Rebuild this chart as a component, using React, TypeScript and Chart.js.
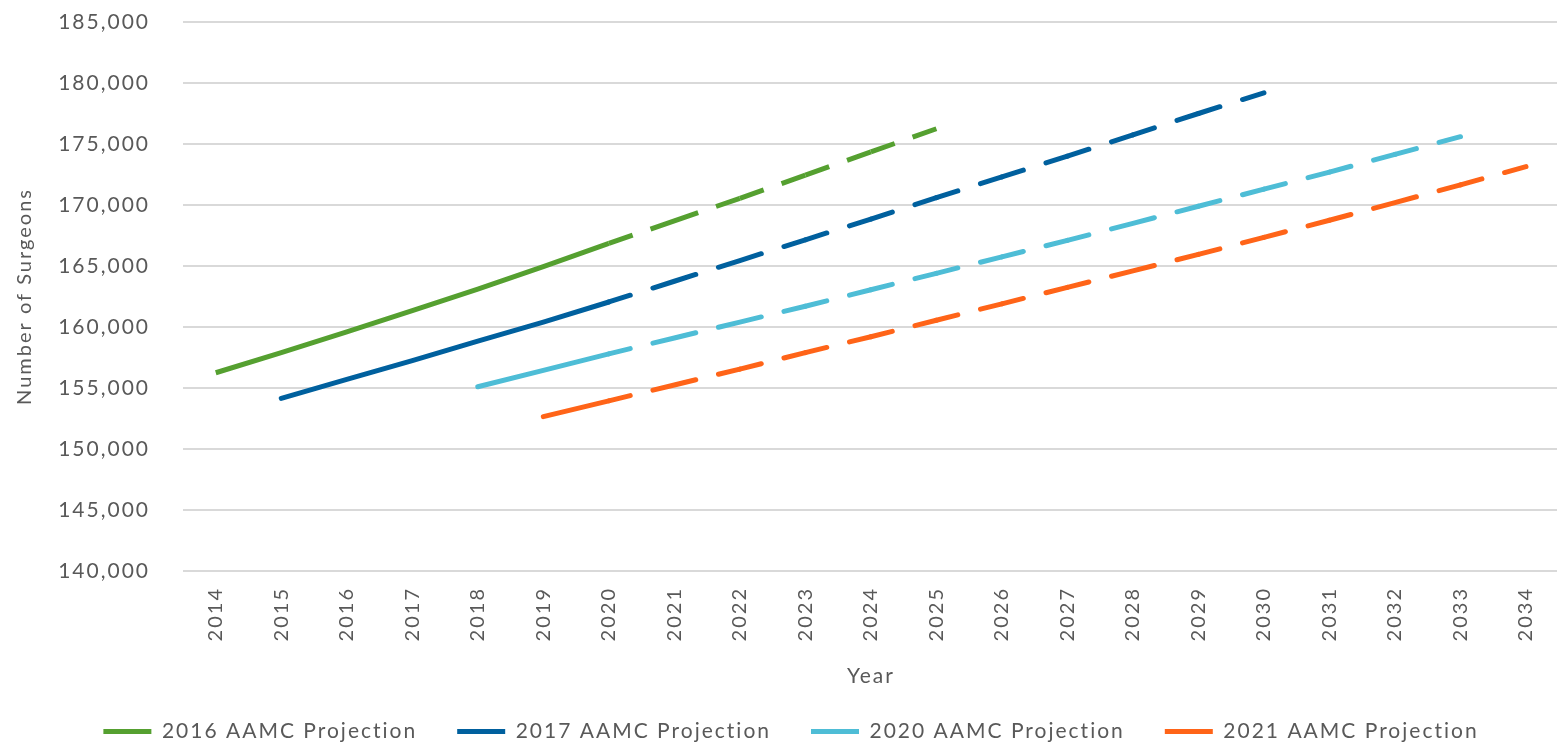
import React, { useEffect, useRef } from 'react';
import { Chart, registerables } from 'chart.js';

Chart.register(...registerables);

const years = ['2014', '2015', '2016', '2017', '2018', '2019', '2020', '2021', '2022', '2023', '2024', '2025', '2026', '2027', '2028', '2029', '2030', '2031', '2032', '2033', '2034'];

const proj2016 = [156250, 157900, 159600, 161350, 163100, 164950, 166850, 168700, 170550, 172450, 174350, 176250, null, null, null, null, null, null, null, null, null];
const proj2017 = [null, 154150, 155700, 157250, 158850, 160400, 162050, 163750, 165450, 167150, 168850, 170600, 172300, 174000, 175750, 177500, 179200, null, null, null, null];
const proj2020 = [null, null, null, null, 155100, 156450, 157800, 159100, 160400, 161700, 163050, 164400, 165750, 167100, 168500, 169900, 171300, 172700, 174150, 175600, null];
const proj2021 = [null, null, null, null, null, 152650, 153950, 155250, 156550, 157900, 159200, 160550, 161900, 163250, 164600, 165950, 167350, 168750, 170200, 171650, 173150];

const seriesLabels = ['2016 AAMC Projection', '2017 AAMC Projection', '2020 AAMC Projection', '2021 AAMC Projection'];
const seriesColors = ['#55A030', '#00609E', '#4EBDD6', '#FF6418'];

const projectionStart = 6; // index of 2020
const LINE_W = 5;
const DASH_FRAC = 48 / 66;
const HALF_FRAC = 24 / 66;
const TEXT = '#595959';
const FONT = 'Lato, "Open Sans", sans-serif';
const LS = '2px';

const makeSegment = (round: boolean) => ({
  borderDash: (c: any) => {
    if (c.p0DataIndex < projectionStart) return undefined;
    const len = Math.hypot(c.p1.x - c.p0.x, c.p1.y - c.p0.y);
    const d = len * DASH_FRAC - (round ? LINE_W : 0);
    return [d, len - d];
  },
  borderDashOffset: (c: any) => {
    if (c.p0DataIndex < projectionStart) return undefined;
    const len = Math.hypot(c.p1.x - c.p0.x, c.p1.y - c.p0.y);
    return len * HALF_FRAC - (round ? LINE_W / 2 : 0);
  },
});

const spacingPlugin = {
  id: 'letterSpacing',
  beforeUpdate(chart: any) {
    chart.ctx.letterSpacing = LS;
  },
  beforeDraw(chart: any) {
    chart.ctx.letterSpacing = LS;
  },
};

export default function App() {
  const ref = useRef<HTMLCanvasElement | null>(null);

  useEffect(() => {
    if (!ref.current) return;
    const allData = [proj2016, proj2017, proj2020, proj2021];
    const chart = new Chart(ref.current, {
      type: 'line',
      data: {
        labels: years,
        datasets: allData.map((d, i) => ({
          label: seriesLabels[i],
          data: d,
          borderColor: seriesColors[i],
          backgroundColor: seriesColors[i],
          borderWidth: LINE_W,
          borderCapStyle: i === 0 ? 'butt' : 'round',
          pointRadius: 0,
          pointHoverRadius: 0,
          tension: 0,
          fill: false,
          segment: makeSegment(i !== 0),
        })),
      },
      options: {
        responsive: false,
        animation: false,
        layout: { padding: { left: 16, top: 22, right: 0, bottom: -4 } },
        plugins: {
          tooltip: { enabled: false },
          legend: {
            position: 'bottom',
            labels: {
              usePointStyle: true,
              pointStyle: 'line',
              pointStyleWidth: 48,
              padding: 40,
              color: TEXT,
              font: { family: FONT, size: 21 },
            },
          },
        },
        scales: {
          x: {
            offset: true,
            grid: { display: false, drawTicks: false },
            border: { display: false },
            ticks: {
              color: TEXT,
              font: { family: FONT, size: 20 },
              minRotation: 90,
              maxRotation: 90,
              padding: 16,
              autoSkip: false,
            },
            title: {
              display: true,
              text: 'Year',
              color: TEXT,
              font: { family: FONT, size: 21 },
              padding: { top: 0, bottom: -7.6 },
            },
            afterFit: (scale: any) => {
              scale.height = 110;
            },
          },
          y: {
            min: 140000,
            max: 185000,
            grid: { color: '#d9d9d9', lineWidth: 2, drawTicks: false },
            border: { display: false },
            ticks: {
              stepSize: 5000,
              color: TEXT,
              padding: 33,
              font: { family: FONT, size: 21 },
              callback: (v: any) => Number(v).toLocaleString('en-US'),
            },
            title: {
              display: true,
              text: 'Number of Surgeons',
              color: TEXT,
              font: { family: FONT, size: 20 },
              padding: { top: -3, bottom: 0 },
            },
            afterFit: (scale: any) => {
              scale.width = 167;
              scale.paddingTop = 12;
              scale.paddingBottom = 12;
            },
          },
        },
      },
      plugins: [spacingPlugin],
    } as any);
    return () => chart.destroy();
  }, []);

  return (
    <div style={{ position: 'fixed', left: 0, top: 0, width: 1557, height: 748, overflow: 'hidden', background: '#fff' }}>
      <canvas ref={ref} width={1566} height={748} style={{ display: 'block' }} />
    </div>
  );
}
